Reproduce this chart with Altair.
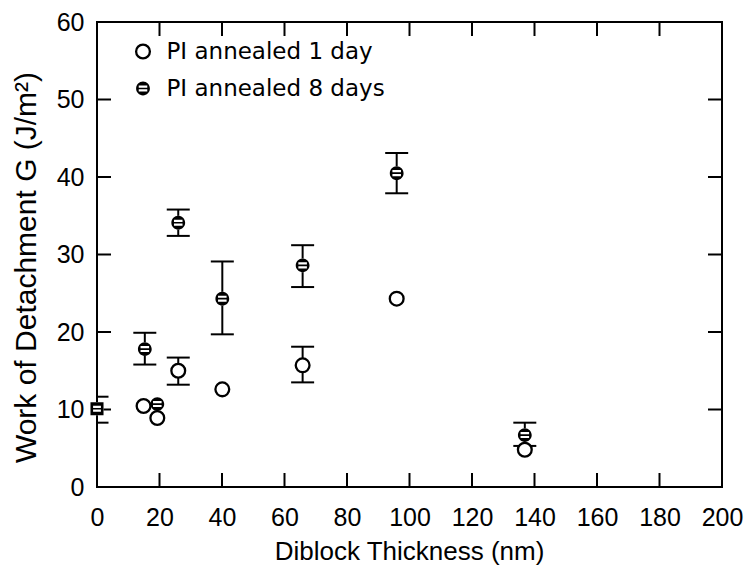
import altair as alt
import pandas as pd

# ---- data ----
series_names = ["PI annealed 1 day", "PI annealed 8 days"]

one_day_x = [14.9, 19.3, 26.0, 40.1, 65.8, 95.9, 136.9]
one_day_y = [10.45, 8.9, 15.0, 12.6, 15.7, 24.3, 4.8]

eight_day_x = [15.3, 19.3, 26.0, 40.1, 65.8, 95.9, 136.9]
eight_day_y = [17.8, 10.7, 34.1, 24.3, 28.6, 40.5, 6.7]

homopolymer_x = [0.0]
homopolymer_y = [10.1]

err_x = [0.0, 15.3, 26.0, 26.0, 40.1, 65.8, 65.8, 95.9, 136.9]
err_lo = [8.3, 15.8, 32.4, 13.2, 19.7, 25.8, 13.5, 37.9, 5.3]
err_hi = [11.65, 19.9, 35.8, 16.7, 29.1, 31.2, 18.1, 43.1, 8.3]

x_ticks = [0, 20, 40, 60, 80, 100, 120, 140, 160, 180, 200]
y_ticks = [0, 10, 20, 30, 40, 50, 60]
x_inner_ticks = [20, 40, 60, 80, 100, 120, 140, 160, 180]
y_inner_ticks = [10, 20, 30, 40, 50]

# ---- tables ----
pts = pd.DataFrame({
    "x": one_day_x + eight_day_x,
    "y": one_day_y + eight_day_y,
    "series": [series_names[0]] * len(one_day_x) + [series_names[1]] * len(eight_day_x),
})
homo = pd.DataFrame({"x": homopolymer_x, "y": homopolymer_y})
err = pd.DataFrame({"x": err_x, "y": err_lo, "hi": err_hi})
caps = pd.DataFrame({"x": err_x + err_x, "y": err_lo + err_hi})
xt = pd.DataFrame({"x": x_inner_ticks})
yt = pd.DataFrame({"y": y_inner_ticks})

W, H = 625, 465
TICK = 14
FONT = "Liberation Sans"

xs = alt.Scale(domain=[0, 200], nice=False, zero=False)
ys = alt.Scale(domain=[0, 60], nice=False, zero=False)

ax_x = alt.Axis(
    values=x_ticks, title="Diblock Thickness (nm)", ticks=False, domain=False,
    grid=False, labelFlush=False, labelOverlap=False, labelPadding=18,
    labelFont=FONT, labelFontSize=25, labelColor="black",
    titleFont=FONT, titleFontSize=26, titleFontWeight="normal", titleColor="black",
    titleX=312, titleY=72, titleBaseline="alphabetic", titleAlign="center",
)
ax_y = alt.Axis(
    values=y_ticks, title="Work of Detachment G (J/m²)", ticks=False, domain=False,
    grid=False, labelFlush=False, labelOverlap=False, labelPadding=13,
    labelFont=FONT, labelFontSize=25, labelColor="black",
    titleFont=FONT, titleFontSize=30, titleFontWeight="normal", titleColor="black",
    titleX=-62, titleY=245, titleBaseline="alphabetic", titleAlign="center", titleAngle=270,
)


def X(field="x"):
    return alt.X(f"{field}:Q", scale=xs, axis=ax_x, title="Diblock Thickness (nm)")


def Y(field="y"):
    return alt.Y(f"{field}:Q", scale=ys, axis=ax_y, title="Work of Detachment G (J/m²)")


circle_banded = ("M0,-1A1,1,0,1,1,0,1A1,1,0,1,1,0,-1Z"
                 "M-0.62,-0.44L-0.62,-0.12L0.62,-0.12L0.62,-0.44Z"
                 "M-0.62,0.12L-0.62,0.44L0.62,0.44L0.62,0.12Z")
square_banded = ("M-1,-1L1,-1L1,1L-1,1Z"
                 "M-0.6,-0.45L-0.6,-0.12L0.6,-0.12L0.6,-0.45Z"
                 "M-0.6,0.12L-0.6,0.45L0.6,0.45L0.6,0.12Z")

leg = alt.Legend(
    title=None, orient="none", legendX=34.5, legendY=18,
    labelFont="DejaVu Sans", labelFontSize=23, labelColor="black",
    labelOffset=12, rowPadding=13, symbolSize=190, symbolStrokeWidth=2.3,
    padding=0, labelLimit=400,
)

err_rule = alt.Chart(err).mark_rule(color="black", strokeWidth=2, clip=True).encode(
    x=X(), y=Y(), y2="hi:Q",
)
err_caps = alt.Chart(caps).mark_tick(color="black", orient="horizontal", size=23,
                                     thickness=2, clip=True, opacity=1).encode(
    x=X(), y=Y(),
)

under = alt.Chart(pts).mark_point(shape="circle", filled=True, color="white",
                                   size=190, opacity=1).encode(x=X(), y=Y())

points = alt.Chart(pts).mark_point(size=190, strokeWidth=2.3, opacity=1, fillOpacity=1).encode(
    x=X(), y=Y(),
    shape=alt.Shape("series:N", scale=alt.Scale(domain=series_names,
                                                range=["circle", circle_banded]), legend=leg),
    fill=alt.Fill("series:N", scale=alt.Scale(domain=series_names,
                                              range=["white", "black"]), legend=leg),
    stroke=alt.Stroke("series:N", scale=alt.Scale(domain=series_names,
                                                  range=["black", "transparent"]), legend=leg),
)

homo_under = alt.Chart(homo).mark_point(shape="square", filled=True, color="white",
                                         size=170, opacity=1).encode(x=X(), y=Y())
homo_pt = alt.Chart(homo).mark_point(shape=square_banded, filled=True, color="black",
                                      size=170, opacity=1).encode(x=X(), y=Y())

tick_bottom = alt.Chart(xt).mark_rule(color="black", strokeWidth=2).encode(
    x=X(), y=alt.value(H), y2=alt.value(H - TICK))
tick_top = alt.Chart(xt).mark_rule(color="black", strokeWidth=2).encode(
    x=X(), y=alt.value(0), y2=alt.value(TICK))
tick_left = alt.Chart(yt).mark_rule(color="black", strokeWidth=2).encode(
    y=Y(), x=alt.value(0), x2=alt.value(TICK))
tick_right = alt.Chart(yt).mark_rule(color="black", strokeWidth=2).encode(
    y=Y(), x=alt.value(W), x2=alt.value(W - TICK))

chart = alt.layer(
    tick_bottom, tick_top, tick_left, tick_right,
    err_rule, err_caps, under, points, homo_under, homo_pt,
).properties(
    width=W, height=H,
    autosize=alt.AutoSizeParams(type="none"),
    padding={"left": 97, "top": 22, "right": 23, "bottom": 78},
    background="white",
).configure_view(stroke="black", strokeWidth=2)

chart.save("out.html", embed_options={"renderer": "svg", "actions": False})
